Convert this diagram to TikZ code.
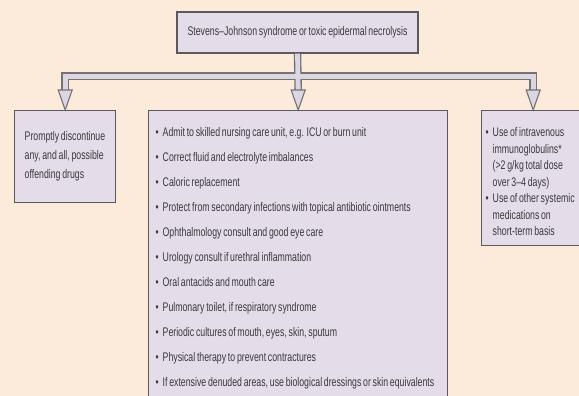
\documentclass[tikz,border=0pt]{standalone}
\usepackage{fontspec}
\setmainfont{Liberation Sans}[FakeStretch=0.70, WordSpace=0.72]
\usetikzlibrary{calc}
\definecolor{bgc}{HTML}{FCEADB}
\definecolor{boxc}{HTML}{E4DCE9}
\definecolor{edgec}{HTML}{5A5A5A}
\definecolor{txtc}{HTML}{3A3A3A}
\definecolor{tubec}{HTML}{DCD5E2}
\newcommand{\myline}[1]{\mbox{\spaceskip=0pt\xspaceskip=0pt\relax #1}}
\newcommand{\myitm}[1]{\myline{\makebox[7pt][l]{\textbullet}#1}}
\newcommand{\mycont}[1]{\myline{\hspace*{7pt}#1}}
\begin{document}
\begin{tikzpicture}[x=1pt,y=1pt,
  box/.style={draw=edgec, line width=1.4pt, fill=boxc, text=txtc, inner ysep=0pt},
  tubeout/.style={draw=edgec!85, line width=7.5pt, line join=miter},
  tubein/.style={draw=tubec, line width=4.8pt, line join=miter},
  head/.style={draw=edgec!85, line width=1.1pt, fill=tubec, line join=miter}]
\useasboundingbox (0,0) rectangle (579,396);
\fill[bgc] (0,0) rectangle (579,396);

\node[box, minimum width=241pt, minimum height=41pt, inner xsep=0pt,
      font=\fontsize{12.5}{14}\selectfont] (top) at (297.5,363.5)
  {Stevens–Johnson syndrome or toxic epidermal necrolysis};

\node[box, anchor=north west, minimum width=101pt, minimum height=92pt,
      text width=81pt, inner xsep=10pt, align=left,
      font=\fontsize{12.5}{19}\selectfont] (left) at (14,286)
  {\myline{Promptly discontinue}\\ \myline{any, and all, possible}\\ \myline{offending drugs}};

\node[box, anchor=north west, minimum width=299pt, minimum height=290pt,
      text width=285pt, inner xsep=7pt, align=left,
      font=\fontsize{12.5}{25}\selectfont] (mid) at (148,286)
  {\rule{0pt}{15pt}\myitm{Admit to skilled nursing care unit, e.g. ICU or burn unit}\\
   \myitm{Correct fluid and electrolyte imbalances}\\
   \myitm{Caloric replacement}\\
   \myitm{Protect from secondary infections with topical antibiotic ointments}\\
   \myitm{Ophthalmology consult and good eye care}\\
   \myitm{Urology consult if urethral inflammation}\\
   \myitm{Oral antacids and mouth care}\\
   \myitm{Pulmonary toilet, if respiratory syndrome}\\
   \myitm{Periodic cultures of mouth, eyes, skin, sputum}\\
   \myitm{Physical therapy to prevent contractures}\\
   \myitm{If extensive denuded areas, use biological dressings or skin equivalents}};

\node[box, anchor=north west, minimum width=103pt, minimum height=135pt,
      text width=95pt, inner xsep=4pt, align=left,
      font=\fontsize{12.5}{16.5}\selectfont] (right) at (481,286)
  {\rule{0pt}{16pt}\myitm{Use of intravenous}\\
   \mycont{immunoglobulins*}\\
   \mycont{(>2 g/kg total dose}\\
   \mycont{over 3–4 days)}\\
   \myitm{Use of other systemic}\\
   \mycont{medications on}\\
   \mycont{short-term basis}};

\coordinate (bar) at ($(top.south)+(0,-22.5)$);
\coordinate (lb) at ($(left.north)+(0,20)$);
\coordinate (mb) at ($(mid.north)+(0,20)$);
\coordinate (rb) at ($(right.north)+(0,20)$);

\draw[tubeout] (lb) -- (lb |- bar) -- (rb |- bar) -- (rb);
\draw[tubeout] (top.south) -- (mb);
\draw[tubein] (lb) -- (lb |- bar) -- (rb |- bar) -- (rb);
\draw[tubein] (top.south) -- (mb);

\draw[head] ($(lb)+(-7,0)$) -- ($(lb)+(7,0)$) -- (left.north) -- cycle;
\draw[head] ($(mb)+(-7,0)$) -- ($(mb)+(7,0)$) -- (mid.north) -- cycle;
\draw[head] ($(rb)+(-7,0)$) -- ($(rb)+(7,0)$) -- (right.north) -- cycle;
\end{tikzpicture}
\end{document}
